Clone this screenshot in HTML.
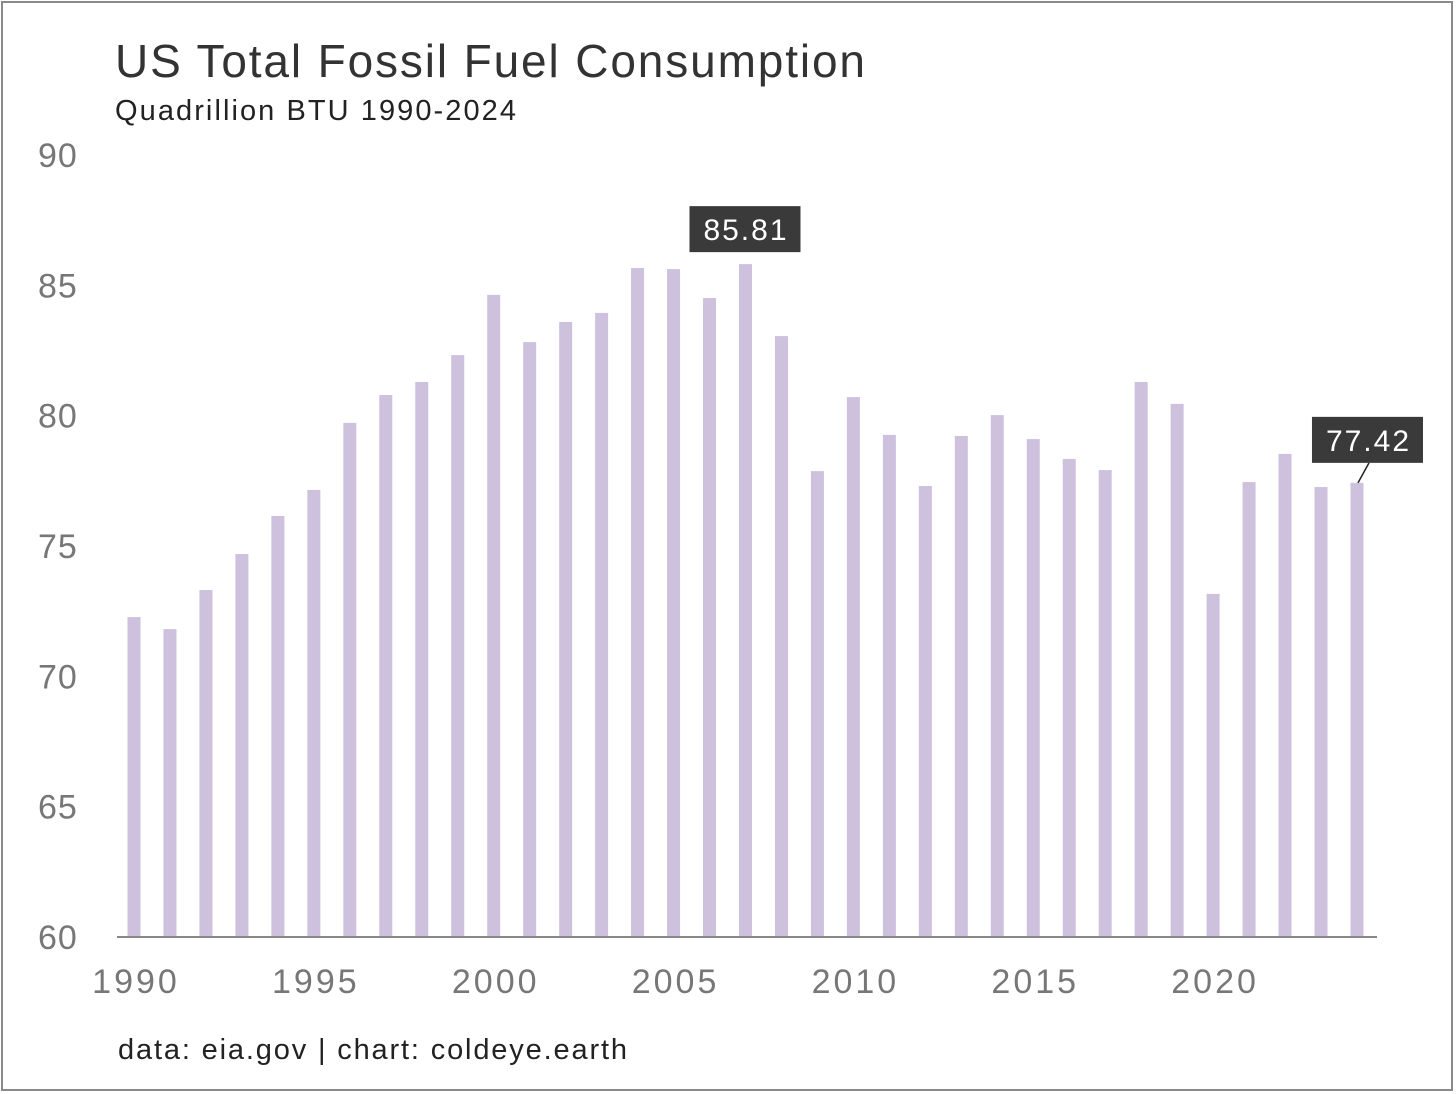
<!DOCTYPE html>
<html><head><meta charset="utf-8"><style>
html,body{margin:0;padding:0;background:#fff}
svg{display:block;font-family:"Liberation Sans",sans-serif}
</style></head><body>
<svg id="chart" width="1456" height="1094" viewBox="0 0 1456 1094">
<rect x="2" y="2" width="1450" height="1088" fill="#fff" stroke="#8a8a8a" stroke-width="2"/>
<text x="115" y="77" font-size="46" fill="#333" textLength="750" lengthAdjust="spacing">US Total Fossil Fuel Consumption</text>
<text x="115" y="120" font-size="29" fill="#222" textLength="401" lengthAdjust="spacing">Quadrillion BTU 1990-2024</text>
<text x="118" y="1059" font-size="29" fill="#222" textLength="509" lengthAdjust="spacing">data: eia.gov | chart: coldeye.earth</text>
<g id="yaxis"></g>
<g id="xaxis"></g>
<g id="bars"></g>
<line x1="117" y1="937" x2="1377" y2="937" stroke="#888" stroke-width="2"/>
<g id="ann"></g>
</svg>
<script>
const years = [1990,1991,1992,1993,1994,1995,1996,1997,1998,1999,2000,2001,2002,2003,2004,2005,2006,2007,2008,2009,2010,2011,2012,2013,2014,2015,2016,2017,2018,2019,2020,2021,2022,2023,2024];
const values = [72.27,71.81,73.31,74.69,76.15,77.15,79.72,80.79,81.29,82.32,84.63,82.82,83.59,83.94,85.66,85.62,84.51,85.81,83.05,77.87,80.71,79.26,77.30,79.22,80.02,79.10,78.34,77.91,81.29,80.45,73.16,77.45,78.53,77.26,77.42];
const yTicks = [60,65,70,75,80,85,90];
const xTicks = [1990,1995,2000,2005,2010,2015,2020];
const annotated = [2007,2024];

const NS="http://www.w3.org/2000/svg";
const y = v => 937 - (v-60)*26.07;
const x = yr => 134 + (yr-1990)*35.97;
function mk(tag, attrs, parent){const e=document.createElementNS(NS,tag);for(const k in attrs)e.setAttribute(k,attrs[k]);parent.appendChild(e);return e;}
const gy=document.getElementById('yaxis'), gx=document.getElementById('xaxis'), gb=document.getElementById('bars'), ga=document.getElementById('ann');
yTicks.forEach(t=>{
  const e=mk('text',{x:38,y:y(t)+12,'font-size':34,fill:'#777','letter-spacing':1},gy);
  
  
  e.textContent=t;
});
xTicks.forEach(t=>{
  const e=mk('text',{x:x(t)+2,y:993,'font-size':34,fill:'#777','text-anchor':'middle','letter-spacing':3},gx);
  
  
  e.textContent=t;
});
years.forEach((yr,i)=>{
  const r=mk('rect',{x:x(yr)-6.5,y:y(values[i]),width:13,height:937-y(values[i]),fill:'#cdc1dd'},gb);
  
  
});
annotated.forEach(yr=>{
  const v=values[years.indexOf(yr)];
  const label=v.toFixed(2);
  let bx,by;
  if(yr===2007){bx=x(yr)-56;by=y(v)-58;}
  else{bx=x(yr)-45;by=y(v)-66;
    const l=mk('line',{x1:x(yr)+12,y1:by+46,x2:x(yr)+1,y2:y(v),stroke:'#222','stroke-width':1.5},ga);
    
    }
  const r=mk('rect',{x:bx,y:by,width:111,height:46,fill:'#3a3a3a'},ga);
  
  
  const t=mk('text',{x:bx+56.5,y:by+34,'font-size':30,fill:'#fff','text-anchor':'middle','letter-spacing':2},ga);
  
  
  t.textContent=label;
});
</script>
</body></html>
